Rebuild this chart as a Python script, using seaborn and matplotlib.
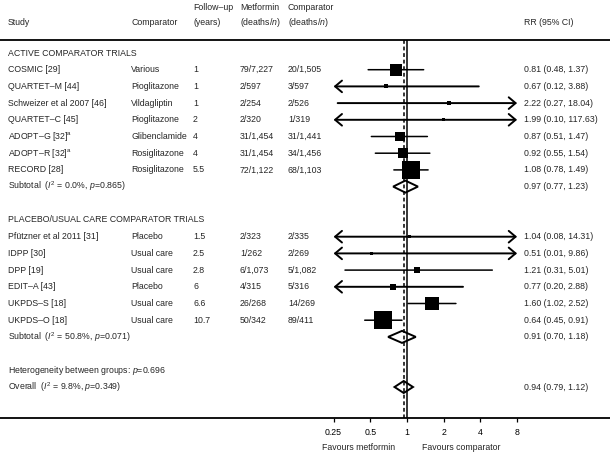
import numpy as np
import pandas as pd
import seaborn as sns
import matplotlib.pyplot as plt
from matplotlib.transforms import blended_transform_factory

# data
active_study = ['COSMIC [29]', 'QUARTET–M [44]', 'Schweizer et al 2007 [46]', 'QUARTET–C [45]',
                'ADOPT–G [32]$^{\\rm a}$', 'ADOPT–R [32]$^{\\rm a}$', 'RECORD [28]']
active_comp = ['Various', 'Pioglitazone', 'Vildagliptin', 'Pioglitazone', 'Glibenclamide',
               'Rosiglitazone', 'Rosiglitazone']
active_fu = ['1', '1', '1', '2', '4', '4', '5.5']
active_met = ['79/7,227', '2/597', '2/254', '2/320', '31/1,454', '31/1,454', '72/1,122']
active_cmp = ['20/1,505', '3/597', '2/526', '1/319', '31/1,441', '34/1,456', '68/1,103']
active_rr = [0.81, 0.67, 2.22, 1.99, 0.87, 0.92, 1.08]
active_lo = [0.48, 0.12, 0.27, 0.10, 0.51, 0.55, 0.78]
active_hi = [1.37, 3.88, 18.04, 117.63, 1.47, 1.54, 1.49]
active_wt = [10.9, 1.2, 1.2, 0.7, 7.6, 7.6, 24.6]
active_sub = (0.97, 0.77, 1.23)
active_het = 'Subtotal  ($I^2$ = 0.0%, $p$=0.865)'

placebo_study = ['Pfützner et al 2011 [31]', 'IDPP [30]', 'DPP [19]', 'EDIT–A [43]',
                 'UKPDS–S [18]', 'UKPDS–O [18]']
placebo_comp = ['Placebo', 'Usual care', 'Usual care', 'Placebo', 'Usual care', 'Usual care']
placebo_fu = ['1.5', '2.5', '2.8', '6', '6.6', '10.7']
placebo_met = ['2/323', '1/262', '6/1,073', '4/315', '26/268', '50/342']
placebo_cmp = ['2/335', '2/269', '5/1,082', '5/316', '14/269', '89/411']
placebo_rr = [1.04, 0.51, 1.21, 0.77, 1.60, 0.64]
placebo_lo = [0.08, 0.01, 0.31, 0.20, 1.02, 0.45]
placebo_hi = [14.31, 9.86, 5.01, 2.88, 2.52, 0.91]
placebo_wt = [0.7, 0.7, 2.7, 2.7, 14.9, 24.6]
placebo_sub = (0.91, 0.70, 1.18)
placebo_het = 'Subtotal  ($I^2$ = 50.8%, $p$=0.071)'

between_het = 'Heterogeneity between groups: $p$=0.696'
overall = (0.94, 0.79, 1.12)
overall_het = 'Overall  ($I^2$ = 9.8%, $p$=0.349)'

ticks = [0.25, 0.5, 1, 2, 4, 8]
tick_labels = ['0.25', '0.5', '1', '2', '4', '8']

sns.set_style('white')
plt.rcParams['font.family'] = ['Liberation Sans', 'DejaVu Sans']
plt.rcParams['mathtext.fontset'] = 'custom'
plt.rcParams['mathtext.rm'] = 'Liberation Sans'
plt.rcParams['mathtext.it'] = 'Liberation Sans:italic'
fs = 6.3

W, H = 610, 453
fig = plt.figure(figsize=(W / 100, H / 100), dpi=100)
ax = fig.add_axes([0, 35 / H, 1, 418 / H])

# rows: 0 heading, 1-7 studies, 8 subtotal, 10 heading, 11-16, 17 subtotal, 19, 20
df = pd.DataFrame({
    'study': active_study + placebo_study,
    'comp': active_comp + placebo_comp,
    'fu': active_fu + placebo_fu,
    'met': active_met + placebo_met,
    'cmp': active_cmp + placebo_cmp,
    'rr': active_rr + placebo_rr,
    'lo': active_lo + placebo_lo,
    'hi': active_hi + placebo_hi,
    'wt': active_wt + placebo_wt,
    'row': list(range(1, 8)) + list(range(11, 17)),
})

row_top = -0.78
row_bot = (418 - 53) / 16.7
ax.set_xscale('log', base=2)
ax.set_xlim(2 ** (-407 / 36.7), 2 ** ((W - 407) / 36.7))
ax.set_ylim(row_bot, (0 - 53) / 16.7)

tr = blended_transform_factory(ax.transAxes, ax.transData)
cols = [8, 131, 193, 240, 288]


def put(px, row, s, **kw):
    ax.text(px / W, row, s, transform=tr, fontsize=fs, va='center', ha='left', **kw)


# header
hdr1 = -2.7
hdr2 = -1.85
put(cols[0], hdr2, 'Study')
put(cols[1], hdr2, 'Comparator')
put(cols[2], hdr1, 'Follow–up')
put(cols[2], hdr2, '(years)')
put(cols[3], hdr1, 'Metformin')
put(cols[3], hdr2, '(deaths/$n$)')
put(cols[4], hdr1, 'Comparator')
put(cols[4], hdr2, '(deaths/$n$)')
put(524, hdr2, 'RR (95% CI)')
ax.axhline(row_top, color='black', lw=1.3, zorder=1)

put(cols[0], 0, 'ACTIVE COMPARATOR TRIALS')
put(cols[0], 10, 'PLACEBO/USUAL CARE COMPARATOR TRIALS')

lo_clip, hi_clip = 0.25, 8
for _, r in df.iterrows():
    put(cols[0], r['row'], r['study'])
    put(cols[1], r['row'], r['comp'])
    put(cols[2], r['row'], r['fu'])
    put(cols[3], r['row'], r['met'])
    put(cols[4], r['row'], r['cmp'])
    put(524, r['row'], f"{r['rr']:.2f} ({r['lo']:.2f}, {r['hi']:.2f})")
    a = max(r['lo'], lo_clip)
    b = min(r['hi'], hi_clip)
    left_arrow = r['lo'] < lo_clip
    right_arrow = r['hi'] > hi_clip
    style = {(False, False): '-', (True, False): '<-', (False, True): '->',
             (True, True): '<->'}[(left_arrow, right_arrow)]
    lw = 1.1
    if style != '-':
        style += ', head_length=0.45, head_width=0.38'
        lw = 1.4
    ax.annotate('', xy=(b, r['row']), xytext=(a, r['row']),
                arrowprops=dict(arrowstyle=style, lw=lw, color='black',
                                shrinkA=0, shrinkB=0, mutation_scale=11), zorder=3)

sns.scatterplot(data=df, x='rr', y='row', size='wt', sizes=(0, 6.8 * 24.6),
                size_norm=(0, 24.6), marker='s', color='black', linewidth=0,
                legend=False, ax=ax, zorder=4)


def diamond(row, est, lo, hi, text):
    h = 0.36
    ax.fill([lo, est, hi, est, lo], [row, row - h, row, row + h, row],
            facecolor='white', edgecolor='black', lw=1.4, zorder=2)
    put(cols[0], row, text)
    put(524, row, f'{est:.2f} ({lo:.2f}, {hi:.2f})')


diamond(8, *active_sub, active_het)
diamond(17, *placebo_sub, placebo_het)
put(cols[0], 19, between_het)
diamond(20, *overall, overall_het)

ax.vlines(1, row_top, row_bot, color='black', lw=1.1, zorder=3)
ax.vlines(overall[0], row_top, row_bot, color='black', lw=1.1, linestyles=(0, (2.5, 1.8)), zorder=3)

for s in ['top', 'left', 'right']:
    ax.spines[s].set_visible(False)
ax.spines['bottom'].set_linewidth(1.3)
ax.spines['bottom'].set_color('black')
ax.set_xticks(ticks)
ax.set_xticklabels(tick_labels, fontsize=fs)
ax.minorticks_off()
ax.tick_params(axis='x', bottom=True, direction='out', length=3, width=0.9, pad=4, colors='black')
ax.set_yticks([])
ax.set_xlabel('')
ax.set_ylabel('')

fig.text(395 / W, 1 - 448 / H, 'Favours metformin', fontsize=fs, ha='right', va='center')
fig.text(422 / W, 1 - 448 / H, 'Favours comparator', fontsize=fs, ha='left', va='center')

fig.savefig('out.png', dpi=100, facecolor='white')
